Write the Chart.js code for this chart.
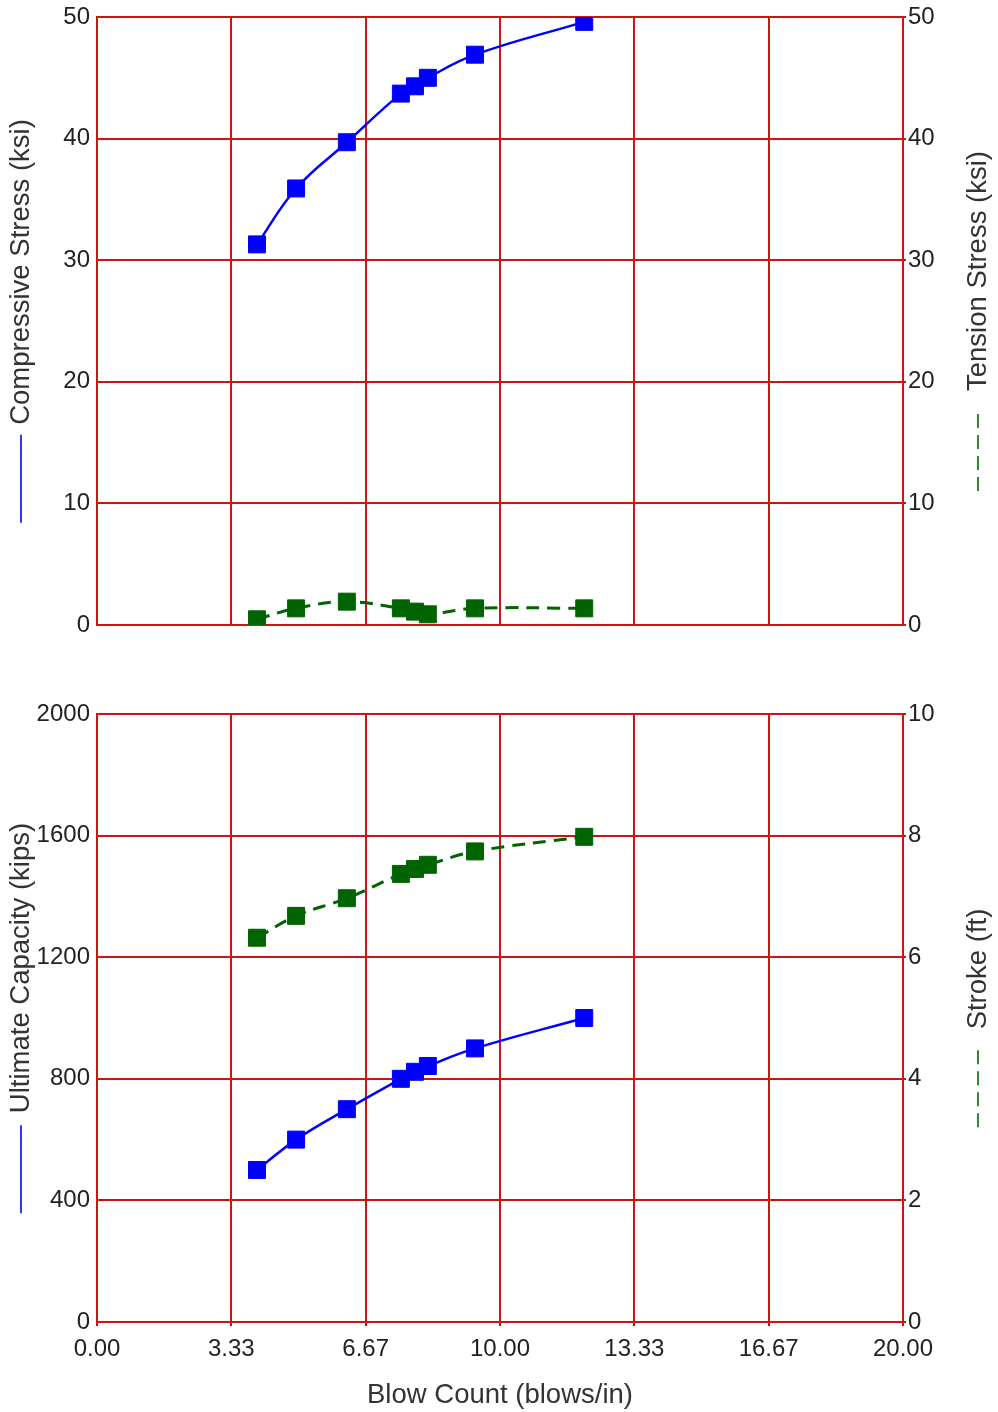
<!DOCTYPE html>
<html>
<head>
<meta charset="utf-8">
<script src="https://cdn.jsdelivr.net/npm/chart.js@4.4.0/dist/chart.umd.min.js"></script>
<style>
body { margin: 0; background: #fff; }
#wrap { position: relative; width: 998px; height: 1412px; }
canvas { position: absolute; left: 0; }
#topChart { top: 0; }
#bottomChart { top: 680px; }
</style>
</head>
<body>
<div id="wrap">
<canvas id="topChart" width="998" height="650"></canvas>
<canvas id="bottomChart" width="998" height="732"></canvas>
</div>
<script>
// readings shared by both plots (blows/in)
var blowCount = [3.97, 4.94, 6.20, 7.54, 7.89, 8.21, 9.38, 12.09];

// top plot
var compStress = [31.3, 35.9, 39.7, 43.7, 44.3, 45.0, 46.9, 49.6];
var tensStress = [0.47, 1.37, 1.92, 1.37, 1.10, 0.88, 1.37, 1.37];

// bottom plot
var capacity = [500, 600, 700, 800, 823, 842, 900, 1000];
var stroke = [6.32, 6.68, 6.97, 7.37, 7.45, 7.52, 7.74, 7.98];

// x grid / tick positions
var xTicks = [0, 10 / 3, 20 / 3, 10, 40 / 3, 50 / 3, 20];

var RED = 'rgb(204,20,20)';
var BLUE = '#0000ff';
var GREEN = '#006400';
var FONT = '"Liberation Sans", Arial, sans-serif';

function pts(ys) {
    return blowCount.map(function (x, i) { return { x: x, y: ys[i] }; });
}

function series(ys, color, axis, dashed) {
    return {
        data: pts(ys),
        yAxisID: axis,
        borderColor: color,
        backgroundColor: color,
        borderWidth: dashed ? 3 : 2.5,
        borderDash: dashed ? [13, 8] : [],
        pointStyle: 'rect',
        pointRadius: 12,
        pointHoverRadius: 12,
        pointBorderWidth: 1,
        pointBackgroundColor: color,
        pointBorderColor: color,
        tension: 0.4,
        fill: false
    };
}

// rotated axis titles with a line sample below the text
var axisTitles = {
    id: 'axisTitles',
    afterDraw: function (chart, args, opts) {
        var ctx = chart.ctx, area = chart.chartArea;
        var mid = (area.top + area.bottom) / 2;
        [opts.left, opts.right].forEach(function (t) {
            ctx.save();
            ctx.font = '27.5px ' + FONT;
            var w = ctx.measureText(t.text).width;
            var total = t.len + t.gap + w;
            ctx.translate(t.x, mid);
            ctx.rotate(-Math.PI / 2);
            ctx.strokeStyle = t.color;
            ctx.lineWidth = 2;
            ctx.setLineDash(t.dash);
            ctx.beginPath();
            ctx.moveTo(-total / 2, 0);
            ctx.lineTo(-total / 2 + t.len, 0);
            ctx.stroke();
            ctx.fillStyle = '#333';
            ctx.textAlign = 'left';
            ctx.textBaseline = 'middle';
            ctx.fillText(t.text, -total / 2 + t.len + t.gap, 0);
            ctx.restore();
        });
    }
};

function xScale(showLabels) {
    return {
        type: 'linear',
        min: 0,
        max: 20,
        afterBuildTicks: function (s) {
            s.ticks = xTicks.map(function (v) { return { value: v }; });
        },
        afterFit: function (s) { s.height = showLabels ? 90 : 25; },
        grid: { color: RED, lineWidth: 2, drawTicks: showLabels, tickLength: 4 },
        border: { color: RED, width: 2 },
        ticks: {
            display: showLabels,
            autoSkip: false,
            maxRotation: 0,
            padding: 9,
            color: '#222',
            font: { family: FONT, size: 24 },
            callback: function (v) { return v.toFixed(2); }
        },
        title: {
            display: showLabels,
            text: 'Blow Count (blows/in)',
            color: '#333',
            font: { family: FONT, size: 27.5 },
            padding: { top: 0, bottom: 0 }
        }
    };
}

function yScale(pos, min, max, step) {
    var left = pos === 'left';
    return {
        type: 'linear',
        position: pos,
        min: min,
        max: max,
        afterFit: function (s) { s.width = left ? 97 : 95; },
        grid: {
            color: RED,
            lineWidth: 2,
            drawOnChartArea: left,
            drawTicks: true,
            tickLength: left ? 7 : 3,
            tickColor: left ? 'rgba(0,0,0,0)' : RED
        },
        border: { color: RED, width: 2 },
        ticks: {
            stepSize: step,
            padding: left ? 0 : 2,
            color: '#222',
            font: { family: FONT, size: 24 },
            callback: function (v) { return String(v); }
        }
    };
}

function makeChart(id, padTop, showX, dsLeft, dsRight, yL, yR, titles) {
    var ctx = document.getElementById(id).getContext('2d');
    return new Chart(ctx, {
        type: 'line',
        data: { datasets: [dsLeft, dsRight] },
        options: {
            responsive: false,
            animation: false,
            devicePixelRatio: 1,
            layout: { padding: { top: padTop, left: 0, right: 0, bottom: 0 } },
            plugins: {
                legend: { display: false },
                tooltip: { enabled: false },
                axisTitles: titles
            },
            scales: {
                x: xScale(showX),
                yL: yScale('left', yL[0], yL[1], yL[2]),
                yR: yScale('right', yR[0], yR[1], yR[2])
            }
        },
        plugins: [axisTitles]
    });
}

makeChart('topChart', 17, false,
    series(compStress, BLUE, 'yL', false),
    series(tensStress, GREEN, 'yR', true),
    [0, 50, 10], [0, 50, 10],
    {
        left: { text: 'Compressive Stress (ksi)', x: 21, color: '#3333ff', dash: [], len: 88, gap: 10 },
        right: { text: 'Tension Stress (ksi)', x: 978, color: '#2e8b2e', dash: [14, 7], len: 80, gap: 20 }
    });

makeChart('bottomChart', 34, true,
    series(capacity, BLUE, 'yL', false),
    series(stroke, GREEN, 'yR', true),
    [0, 2000, 400], [0, 10, 2],
    {
        left: { text: 'Ultimate Capacity (kips)', x: 21, color: '#3333ff', dash: [], len: 88, gap: 12 },
        right: { text: 'Stroke (ft)', x: 978, color: '#2e8b2e', dash: [14, 7], len: 80, gap: 18 }
    });
</script>
</body>
</html>
